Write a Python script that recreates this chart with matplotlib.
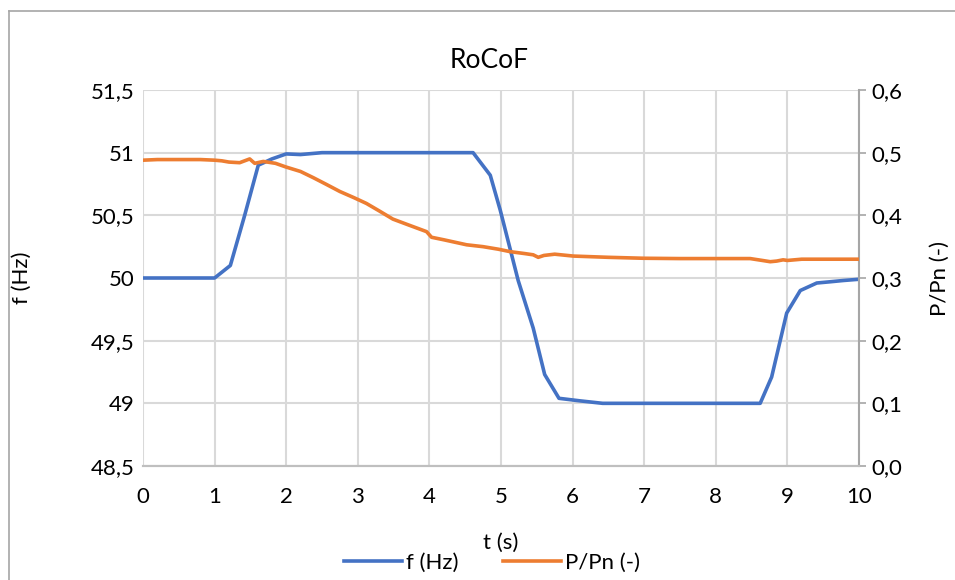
import matplotlib.pyplot as plt
from matplotlib.ticker import FuncFormatter
from matplotlib.lines import Line2D

plt.rcParams['font.family'] = ['Lato', 'DejaVu Sans']

# frequency trace (Hz)
t_f = [0, 0.5, 1.0, 1.22, 1.42, 1.61, 1.8, 2.0, 2.2, 2.5, 3.0, 3.5, 4.0, 4.3, 4.61,
       4.85, 4.99, 5.24, 5.45, 5.61, 5.81, 6.1, 6.42, 7.0, 7.5, 8.0, 8.62,
       8.78, 8.99, 9.18, 9.41, 9.6, 9.78, 10.0]
f_hz = [50.0, 50.0, 50.0, 50.1, 50.5, 50.9, 50.95, 50.99, 50.985, 51.0, 51.0, 51.0, 51.0, 51.0, 51.0,
        50.82, 50.54, 49.98, 49.6, 49.23, 49.04, 49.02, 49.0, 49.0, 49.0, 49.0, 49.0,
        49.21, 49.72, 49.90, 49.96, 49.97, 49.98, 49.99]

# active power ratio P/Pn (-)
t_p = [0, 0.2, 0.4, 0.6, 0.8, 1.0, 1.1, 1.2, 1.35, 1.42, 1.49, 1.56, 1.68, 1.85,
       2.0, 2.2, 2.38, 2.55, 2.75, 2.95, 3.12, 3.3, 3.49, 3.7, 3.96, 4.03,
       4.2, 4.52, 4.75, 4.96, 5.13, 5.33, 5.45, 5.52, 5.6, 5.75, 6.01, 6.5,
       6.99, 7.5, 8.0, 8.48, 8.65, 8.76, 8.85, 8.94, 9.0, 9.2, 9.5, 9.8, 10.0]
p_pn = [0.488, 0.489, 0.489, 0.489, 0.489, 0.488, 0.487, 0.485, 0.484, 0.487, 0.490, 0.483, 0.486, 0.483,
        0.477, 0.470, 0.460, 0.450, 0.438, 0.428, 0.419, 0.407, 0.394, 0.385, 0.374, 0.365,
        0.361, 0.353, 0.350, 0.346, 0.342, 0.339, 0.337, 0.333, 0.336, 0.338, 0.335, 0.333,
        0.3315, 0.331, 0.331, 0.331, 0.328, 0.326, 0.327, 0.329, 0.328, 0.330, 0.330, 0.330, 0.330]

blue = '#4472C4'
orange = '#ED7D31'
grid_c = '#d9d9d9'
fs = 16

fig = plt.figure(figsize=(9.55, 5.8), dpi=100)
ax = fig.add_axes([143 / 955, 1 - 466 / 580, (859 - 143) / 955, (466 - 90) / 580])
ax2 = ax.twinx()

ax.plot(t_f, f_hz, color=blue, lw=2.6, zorder=3)
ax2.plot(t_p, p_pn, color=orange, lw=2.6, zorder=3)

ax.set_xlim(0, 10)
ax.set_ylim(48.5, 51.5)
ax2.set_ylim(0, 0.6)
ax.set_xticks(range(0, 11))
ax.set_yticks([48.5, 49, 49.5, 50, 50.5, 51, 51.5])
ax2.set_yticks([0, 0.1, 0.2, 0.3, 0.4, 0.5, 0.6])

ax.yaxis.set_major_formatter(FuncFormatter(lambda v, p: ('%g' % v).replace('.', ',')))
ax2.yaxis.set_major_formatter(FuncFormatter(lambda v, p: ('%.1f' % v).replace('.', ',')))

ax.grid(True, color=grid_c, lw=1.5)
ax.set_axisbelow(True)
for a in (ax, ax2):
    for s in ('top', 'left', 'right'):
        a.spines[s].set_visible(False)
    a.spines['bottom'].set_color('#bfbfbf')
    a.spines['bottom'].set_linewidth(1.5)
ax2.spines['right'].set_visible(True)
ax2.spines['right'].set_color('#a6a6a6')
ax2.spines['right'].set_linewidth(1.5)

ax.tick_params(axis='x', length=0, labelsize=fs, pad=15)
ax.tick_params(axis='y', length=0, labelsize=fs, pad=6)
ax2.tick_params(axis='y', length=5, width=1.2, color='#a6a6a6', labelsize=fs, pad=4)

ax.set_title('RoCoF', fontsize=19, pad=16, x=(489 - 143) / 716)
ax.set_xlabel('t (s)', fontsize=fs)
ax.set_ylabel('f (Hz)', fontsize=fs)
ax2.set_ylabel('P/Pn (-)', fontsize=fs, rotation=90)
ax.xaxis.set_label_coords(0.5, (466 - 543) / 376, transform=ax.transAxes)
ax.xaxis.label.set_va('center')
ax.yaxis.set_label_coords((22 - 143) / 716, 0.5)
ax.yaxis.label.set_va('center')
ax2.yaxis.set_label_coords((940 - 143) / 716, 0.5)
ax2.yaxis.label.set_va('center')

handles = [Line2D([], [], color=blue, lw=2.6), Line2D([], [], color=orange, lw=2.6)]
fig.legend(handles, ['f (Hz)', 'P/Pn (-)'], loc='center', bbox_to_anchor=(492 / 955, 1 - 563 / 580),
           ncol=2, frameon=False, fontsize=fs, handlelength=2.6, handletextpad=0.2,
           columnspacing=2.0)

# chart border (partially cropped in the reference)
fig.add_artist(Line2D([9 / 955, 9 / 955], [0, 1 - 11 / 580], color='#a6a6a6', lw=1.2))
fig.add_artist(Line2D([9 / 955, 1], [1 - 11 / 580, 1 - 11 / 580], color='#a6a6a6', lw=1.2))

fig.savefig('out.png', dpi=100)
